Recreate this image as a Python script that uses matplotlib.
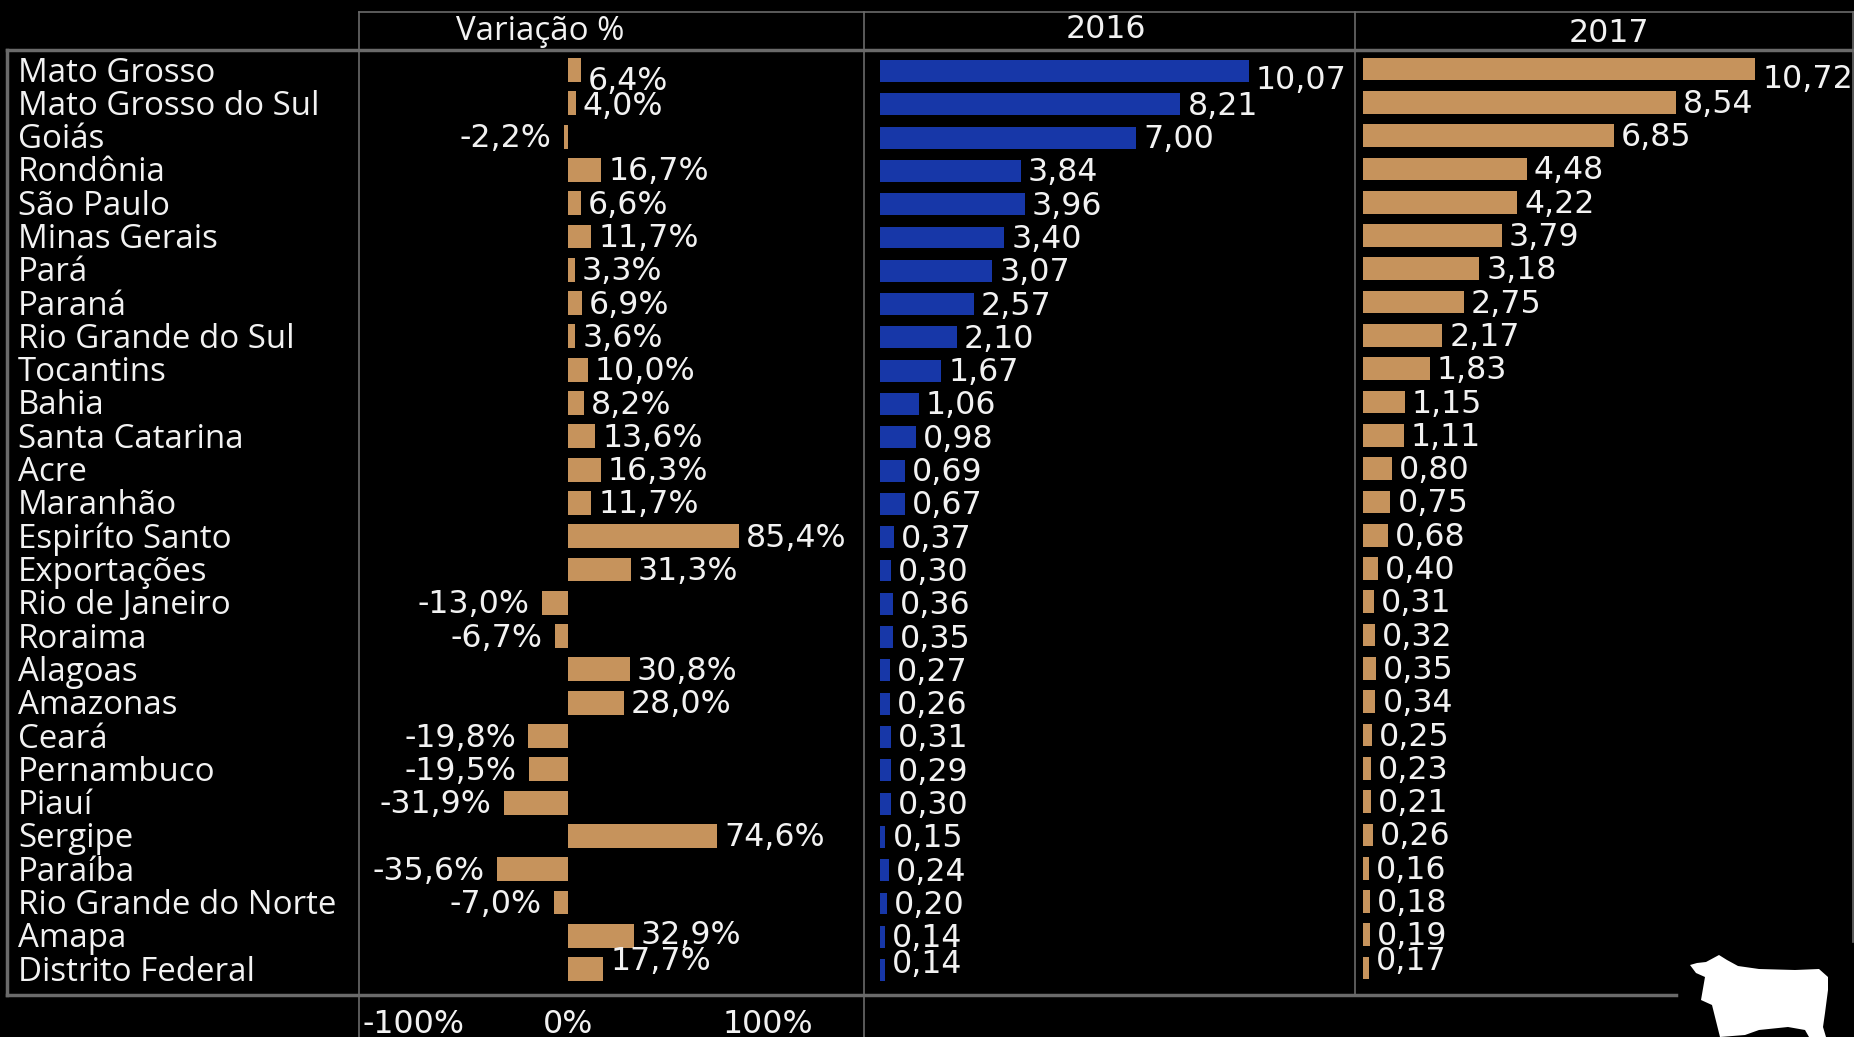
import matplotlib
matplotlib.use("Agg")
import matplotlib.pyplot as plt
from matplotlib.transforms import ScaledTranslation

plt.rcParams["font.family"] = ["Open Sans", "DejaVu Sans"]

W, H = 1854, 1037
BG = "#000000"
TAN = "#C6935C"
BLUE = "#1737A8"
LINE = "#6A6A6A"
TXT = "#F2F2F2"
FS = 22.8
FS_NAME = 23.8
NUM_FONT = "DejaVu Sans"

estados = ["Mato Grosso", "Mato Grosso do Sul", "Goiás", "Rondônia", "São Paulo",
           "Minas Gerais", "Pará", "Paraná", "Rio Grande do Sul", "Tocantins",
           "Bahia", "Santa Catarina", "Acre", "Maranhão", "Espiríto Santo",
           "Exportações", "Rio de Janeiro", "Roraima", "Alagoas", "Amazonas",
           "Ceará", "Pernambuco", "Piauí", "Sergipe", "Paraíba",
           "Rio Grande do Norte", "Amapa", "Distrito Federal"]
variacao = [6.4, 4.0, -2.2, 16.7, 6.6, 11.7, 3.3, 6.9, 3.6, 10.0, 8.2, 13.6, 16.3, 11.7,
            85.4, 31.3, -13.0, -6.7, 30.8, 28.0, -19.8, -19.5, -31.9, 74.6, -35.6,
            -7.0, 32.9, 17.7]
v2016 = [10.07, 8.21, 7.00, 3.84, 3.96, 3.40, 3.07, 2.57, 2.10, 1.67, 1.06, 0.98, 0.69, 0.67,
         0.37, 0.30, 0.36, 0.35, 0.27, 0.26, 0.31, 0.29, 0.30, 0.15, 0.24, 0.20, 0.14, 0.14]
v2017 = [10.72, 8.54, 6.85, 4.48, 4.22, 3.79, 3.18, 2.75, 2.17, 1.83, 1.15, 1.11, 0.80, 0.75,
         0.68, 0.40, 0.31, 0.32, 0.35, 0.34, 0.25, 0.23, 0.21, 0.26, 0.16, 0.18, 0.19, 0.17]
var_ticks = [-100, 0, 100]

# rows where the original labels sit off the bar (pixels, + is down)
shift_var = {0: 9, 1: 1, 26: -2, 27: -10}
shift_2016 = {0: 8, 26: 0, 27: -8}
shift_2017 = {0: 8, 26: 0, 27: -9}

TOP, BOTTOM = 50, 995
ROW0, PITCH = 70, 33.3


def panel(x0, x1, xlim, top=TOP, bottom=BOTTOM):
    ax = fig.add_axes([x0 / W, 1 - bottom / H, (x1 - x0) / W, (bottom - top) / H])
    ax.set_facecolor("none")
    ax.set_xlim(*xlim)
    ax.set_ylim((bottom - ROW0) / PITCH, (top - ROW0) / PITCH)
    ax.set_yticks([])
    ax.set_xticks([])
    for s in ax.spines.values():
        s.set_visible(False)
    return ax


def add_bars(ax, values, color, height, labels, shifts, nudge=0.0):
    rows = [i + nudge for i in range(len(values))]
    ax.barh(rows, values, height=height, color=color, linewidth=0)
    for i, (v, lab) in enumerate(zip(values, labels)):
        neg = v < 0
        ax.annotate(lab, (v, rows[i]), xytext=(-9 if neg else 5, -(shifts.get(i, 0) + 2) * 0.72),
                    textcoords="offset points", ha="right" if neg else "left", va="center",
                    color=TXT, fontsize=FS, family=NUM_FONT)


fig = plt.figure(figsize=(W / 100, H / 100), dpi=100, facecolor=BG)

# frame, headers and the cow are drawn in pixel coordinates
bg = fig.add_axes([0, 0, 1, 1])
bg.set_xlim(0, W)
bg.set_ylim(H, 0)
bg.axis("off")
bg.plot([7, W], [50, 50], color=LINE, lw=2.5)
bg.plot([7, 1676], [995, 995], color=LINE, lw=2.5)
bg.plot([7, 7], [50, 995], color=LINE, lw=2.5)
bg.plot([359, W], [12, 12], color=LINE, lw=1.2)
bg.plot([359, 359], [12, H], color=LINE, lw=1.2)
bg.plot([864, 864], [12, H], color=LINE, lw=1.2)
bg.plot([1355, 1355], [12, 995], color=LINE, lw=1.2)
bg.plot([1853, 1853], [12, 942], color=LINE, lw=1.2)
bg.text(540, 31, "Variação %", color=TXT, fontsize=FS_NAME, ha="center", va="center")
bg.text(1106, 30, "2016", color=TXT, fontsize=FS, ha="center", va="center", family=NUM_FONT)
bg.text(1609, 34, "2017", color=TXT, fontsize=FS, ha="center", va="center", family=NUM_FONT)

cow_x = [1690, 1697, 1706, 1719, 1727, 1738, 1759, 1795, 1819, 1828, 1828, 1825, 1823, 1826,
         1809, 1805, 1788, 1759, 1745, 1720, 1715, 1712, 1701, 1705, 1696]
cow_y = [965, 963, 962, 955, 960, 966, 969, 970, 969, 977, 990, 1013, 1027, 1037,
         1037, 1030, 1027, 1030, 1035, 1037, 1017, 1005, 1000, 977, 973]
bg.fill(cow_x, cow_y, color="white", linewidth=0)

# state names
for i, nome in enumerate(estados):
    bg.text(18, ROW0 + 3 + i * PITCH, nome, color=TXT, fontsize=FS_NAME, ha="left", va="center")

# 2 px per percentage point, zero at x=568
ax_var = panel(359, 864, ((359 - 568) / 2, (864 - 568) / 2))
var_labels = [f"{v:.1f}%".replace(".", ",") for v in variacao]
add_bars(ax_var, variacao, TAN, 0.72, var_labels, shift_var)
ax_var.set_xticks(var_ticks)
ax_var.set_xticklabels([f"{t}%" for t in var_ticks], color=TXT, fontsize=FS, family=NUM_FONT)
ax_var.tick_params(axis="x", length=0, pad=10)
# -100% is kept inside the pane in the original
first = ax_var.get_xticklabels()[0]
first.set_ha("left")
first.set_transform(first.get_transform() + ScaledTranslation(-5 / 100, 0, fig.dpi_scale_trans))

# 36.6 px per unit in both year panels
ax_16 = panel(864, 1355, ((864 - 880) / 36.6, (1355 - 880) / 36.6))
add_bars(ax_16, v2016, BLUE, 0.66, [f"{v:.2f}".replace(".", ",") for v in v2016], shift_2016, nudge=0.03)

ax_17 = panel(1355, 1854, ((1355 - 1363) / 36.6, (1854 - 1363) / 36.6))
add_bars(ax_17, v2017, TAN, 0.68, [f"{v:.2f}".replace(".", ",") for v in v2017], shift_2017, nudge=-0.03)

fig.savefig("out.png", dpi=100, facecolor=BG)
